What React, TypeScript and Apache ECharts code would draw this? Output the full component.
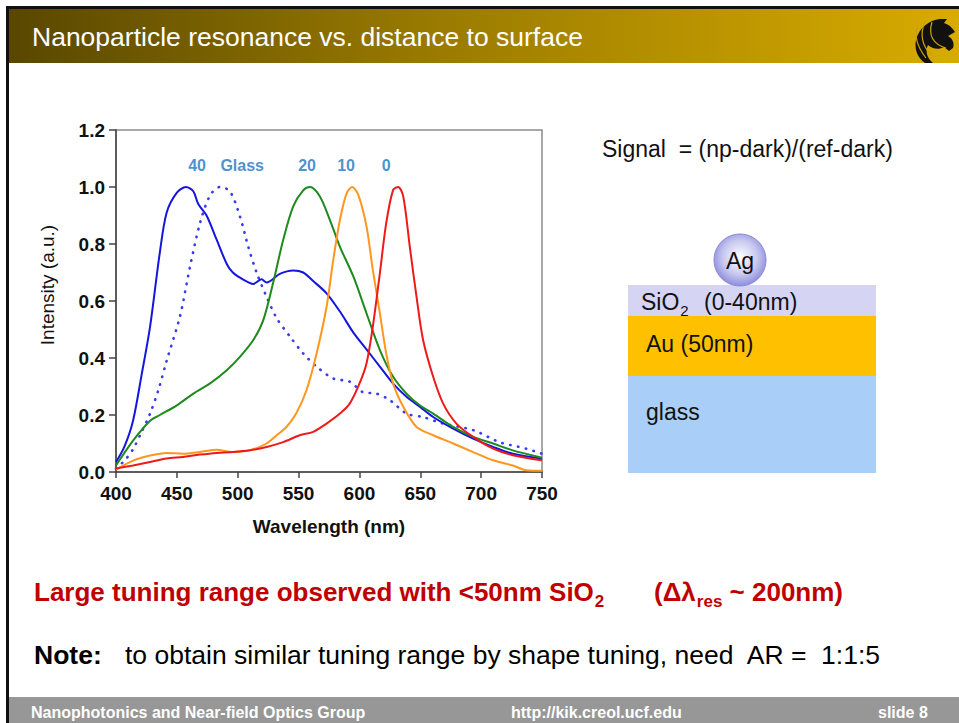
import React, { useEffect, useRef } from "react";
import * as echarts from "echarts";

const FONT = "'Liberation Sans', Arial, Helvetica, sans-serif";

// ---- data (wavelength nm, normalized intensity) ----
const spectrum40: [number, number][] = [
  [400, 0.035], [407, 0.09], [414, 0.18], [421, 0.34], [428, 0.51], [436, 0.77], [441.6, 0.91], [450, 0.98],
  [457.5, 1.0], [463.5, 0.985], [467.6, 0.94], [474.4, 0.9], [482.7, 0.815], [491, 0.73], [496, 0.7],
  [504.6, 0.675], [512.8, 0.66], [519.6, 0.676], [523.7, 0.665], [534.6, 0.695], [545.6, 0.707],
  [553.8, 0.7], [562, 0.67], [573, 0.627], [584, 0.563], [594.9, 0.49], [605.8, 0.43], [616.8, 0.37],
  [627.7, 0.31], [638.7, 0.264], [649.6, 0.229], [660.6, 0.193], [677, 0.152], [693.4, 0.117],
  [709.8, 0.088], [726, 0.064], [750, 0.047],
];
const spectrumGlass: [number, number][] = [
  [400, 0.012], [407, 0.04], [414, 0.08], [421, 0.14], [428, 0.205], [435, 0.29], [441.6, 0.39],
  [452.5, 0.545], [460.8, 0.72], [469, 0.873], [477.2, 0.97], [485.4, 1.0], [493.6, 0.985], [501.8, 0.897],
  [508.7, 0.79], [515.5, 0.7], [523.7, 0.615], [532, 0.54], [543, 0.475], [553.8, 0.416], [564.8, 0.37],
  [578.5, 0.328], [592, 0.317], [603, 0.28], [614, 0.275], [625, 0.252], [638.7, 0.205], [652, 0.193],
  [668.8, 0.17], [693.4, 0.147], [715, 0.105], [737, 0.082], [750, 0.064],
];
const spectrum20: [number, number][] = [
  [400, 0.023], [414, 0.11], [428, 0.18], [436, 0.2], [450, 0.234], [463.5, 0.275], [477, 0.31],
  [491, 0.357], [501.8, 0.404], [512.8, 0.463], [521, 0.533], [529, 0.662], [537.4, 0.815], [545.6, 0.932],
  [553.8, 0.988], [559.3, 1.0], [567.5, 0.967], [575.7, 0.885], [584, 0.79], [595, 0.686], [605.8, 0.557],
  [616.8, 0.428], [627.7, 0.334], [638.7, 0.275], [649.6, 0.234], [660.6, 0.205], [677, 0.158],
  [693.4, 0.123], [709.8, 0.1], [726, 0.076], [750, 0.05],
];
const spectrum10: [number, number][] = [
  [400, 0.008], [414, 0.04], [428, 0.058], [441.6, 0.067], [455, 0.064], [469, 0.07], [482.7, 0.078],
  [496, 0.07], [510, 0.076], [523.7, 0.1], [532, 0.129], [540, 0.158], [548, 0.205], [556.5, 0.287],
  [564.8, 0.416], [573, 0.58], [578.5, 0.744], [584, 0.885], [589.4, 0.977], [594, 1.0], [599, 0.973],
  [605.8, 0.862], [611, 0.709], [616.8, 0.557], [622, 0.416], [627.7, 0.31], [636, 0.229], [646.9, 0.158],
  [660.6, 0.129], [677, 0.1], [693.4, 0.07], [709.8, 0.041], [726, 0.023], [737, 0.006], [750, 0.004],
];
const spectrum0: [number, number][] = [
  [400, 0.012], [414, 0.023], [428, 0.035], [441.6, 0.047], [455, 0.053], [469, 0.061], [482.7, 0.067],
  [496, 0.07], [510, 0.076], [523.7, 0.088], [537.4, 0.105], [551, 0.129], [562, 0.141], [573, 0.17],
  [584, 0.205], [592, 0.24], [600, 0.31], [605.8, 0.381], [611, 0.51], [616.8, 0.698], [622, 0.873],
  [627.7, 0.99], [631.8, 1.0], [636, 0.967], [641.4, 0.79], [646.9, 0.615], [652.3, 0.463], [660.6, 0.334],
  [668.8, 0.24], [679.7, 0.17], [693.4, 0.123], [709.8, 0.082], [726, 0.059], [750, 0.041],
];
const peakLabels = ["40", "Glass", "20", "10", "0"];
const peakLabelX = [466.6, 503.7, 557, 589, 622];
const peakLabelY = 1.075;

const LOGO_D =
  "M27 1 C16 2 6 10 3 22 C1 32 5 40 12 45 L20 45 C14 40 12 33 15 27 C19 31 26 32 31 29 L36 33 L40 30 C42 25 39 20 35 18 L42 14 C39 9 35 6 31 5 L34 1 Z";
let logoRegistered = false;

function measure(text: string, font: string): number {
  const ctx = document.createElement("canvas").getContext("2d")!;
  ctx.font = font;
  return ctx.measureText(text).width;
}

function T(text: string, x: number, y: number, font: string, fill: string, align = "left", extra: any = {}) {
  return {
    type: "text",
    x,
    y,
    silent: true,
    ...extra,
    style: { text, font, fill, align, verticalAlign: "middle", textAlign: align, textVerticalAlign: "middle" },
  };
}

export default function App() {
  const ref = useRef<HTMLDivElement>(null);
  useEffect(() => {
    if (!ref.current) return;
    if (!logoRegistered) {
      echarts.graphic.registerShape("logo", echarts.graphic.extendPath(LOGO_D, {}) as any);
      logoRegistered = true;
    }
    const chart = echarts.init(ref.current, undefined, { renderer: "svg" });

    const hFont = `bold 26px ${FONT}`;
    const hSub = `bold 17px ${FONT}`;
    const red = "#C00000";
    const main = "Large tuning range observed with <50nm SiO";
    const wMain = measure(main, hFont);
    const dStart = 654;
    const wD = measure("(\u0394\u03bb", hFont);
    const wRes = measure("res", hSub);

    const dFont = `23px ${FONT}`;
    const wSiO = measure("SiO", dFont);

    const graphic: any[] = [
      // slide frame
      { type: "rect", silent: true, shape: { x: 6, y: 6, width: 953, height: 3 }, style: { fill: "#111" } },
      { type: "rect", silent: true, shape: { x: 6, y: 6, width: 3, height: 717 }, style: { fill: "#111" } },
      {
        type: "rect",
        silent: true,
        shape: { x: 9, y: 9, width: 950, height: 54 },
        style: {
          fill: new echarts.graphic.LinearGradient(0, 0, 1, 0, [
            { offset: 0, color: "#594700" },
            { offset: 0.45, color: "#9A7B00" },
            { offset: 1, color: "#D8AB00" },
          ]),
        },
      },
      T("Nanoparticle resonance vs. distance to surface", 32, 37, `26.5px ${FONT}`, "#FFFFFF"),
      { type: "logo", x: 913, y: 18, scaleX: 1, scaleY: 1, silent: true, style: { fill: "#111" } },
      {
        type: "bezierCurve", silent: true,
        shape: { x1: 918, y1: 26, x2: 926, y2: 58, cpx1: 912, cpy1: 40 },
        style: { stroke: "#C9A200", lineWidth: 1.2, fill: null },
      },
      {
        type: "bezierCurve", silent: true,
        shape: { x1: 925, y1: 22, x2: 931, y2: 55, cpx1: 917, cpy1: 40 },
        style: { stroke: "#C9A200", lineWidth: 1.2, fill: null },
      },
      {
        type: "bezierCurve", silent: true,
        shape: { x1: 932, y1: 22, x2: 946, y2: 48, cpx1: 926, cpy1: 42 },
        style: { stroke: "#C9A200", lineWidth: 1.2, fill: null },
      },
      // footer
      { type: "rect", silent: true, shape: { x: 9, y: 697, width: 950, height: 26 }, style: { fill: "#979797" } },
      T("Nanophotonics and Near-field Optics Group", 31, 712, `bold 16px ${FONT}`, "#FFFFFF"),
      T("http://kik.creol.ucf.edu", 511, 712, `bold 16px ${FONT}`, "#FFFFFF"),
      T("slide 8", 878, 712, `bold 16px ${FONT}`, "#FFFFFF"),
      // right-hand text and diagram
      T("Signal  = (np-dark)/(ref-dark)", 602, 149, dFont, "#111"),
      { type: "rect", silent: true, shape: { x: 628, y: 285, width: 248, height: 31 }, style: { fill: "#D5D5F3" } },
      { type: "rect", silent: true, shape: { x: 628, y: 316, width: 248, height: 60 }, style: { fill: "#FFC000" } },
      { type: "rect", silent: true, shape: { x: 628, y: 376, width: 248, height: 97 }, style: { fill: "#A9CEF8" } },
      {
        type: "circle",
        silent: true,
        shape: { cx: 740, cy: 260, r: 26 },
        style: {
          fill: new echarts.graphic.RadialGradient(0.5, 0.45, 0.6, [
            { offset: 0, color: "#FFFFFF" },
            { offset: 0.55, color: "#C8C8F0" },
            { offset: 1, color: "#8080D8" },
          ]),
          stroke: "#8A8AD8",
          lineWidth: 1,
        },
      },
      T("Ag", 740, 261, dFont, "#111", "center"),
      T("SiO", 641, 302, dFont, "#111"),
      T("2", 641 + wSiO + 1, 310, `15px ${FONT}`, "#111"),
      T("(0-40nm)", 704, 302, dFont, "#111"),
      T("Au (50nm)", 646, 344, dFont, "#111"),
      T("glass", 646, 412, dFont, "#111"),
      // headline
      T(main, 34, 592, hFont, red),
      T("2", 34 + wMain + 1, 601, hSub, red),
      T("(\u0394\u03bb", dStart, 592, hFont, red),
      T("res", dStart + wD + 1, 601, hSub, red),
      T(" ~ 200nm)", dStart + wD + 1 + wRes, 592, hFont, red),
      // note
      T("Note:", 34, 655, `bold 26.5px ${FONT}`, "#000"),
      T("to obtain similar tuning range by shape tuning, need  AR =  1:1:5", 125, 655, `26.5px ${FONT}`, "#000"),
      // y-axis name
      T("Intensity (a.u.)", 47, 285, `19px ${FONT}`, "#111", "center", { rotation: Math.PI / 2 }),
    ];

    const lineSeries = (name: string, data: [number, number][], color: string, dotted = false) => ({
      type: "line",
      name,
      data,
      showSymbol: false,
      smooth: 0.3,
      silent: true,
      z: 3,
      lineStyle: dotted
        ? { color, width: 2.6, type: [0.5, 7.5], cap: "round" }
        : { color, width: 2 },
    });

    chart.setOption({
      animation: false,
      backgroundColor: "#FFFFFF",
      graphic,
      grid: {
        left: 116,
        right: 417,
        top: 130,
        bottom: 251,
        show: true,
        borderColor: "#8A8A8A",
        borderWidth: 1.5,
      },
      xAxis: {
        type: "value",
        min: 400,
        max: 750,
        interval: 50,
        name: "Wavelength (nm)",
        nameLocation: "middle",
        nameGap: 45,
        nameTextStyle: { fontFamily: FONT, fontWeight: "bold", fontSize: 19, color: "#111" },
        axisLine: { lineStyle: { color: "#444", width: 1.5 } },
        axisTick: { show: true, length: 6, lineStyle: { color: "#444", width: 1.5 } },
        axisLabel: { fontFamily: FONT, fontWeight: "bold", fontSize: 19, color: "#111", margin: 12 },
        splitLine: { show: false },
      },
      yAxis: {
        type: "value",
        min: 0,
        max: 1.2,
        interval: 0.2,
        axisLine: { show: true, lineStyle: { color: "#444", width: 1.5 } },
        axisTick: { show: true, length: 7, lineStyle: { color: "#444", width: 1.5 } },
        axisLabel: {
          fontFamily: FONT,
          fontWeight: "bold",
          fontSize: 19,
          color: "#111",
          margin: 11,
          formatter: (v: number) => v.toFixed(1),
        },
        splitLine: { show: false },
      },
      series: [
        lineSeries("Glass", spectrumGlass, "#3B3BEE", true),
        lineSeries("40", spectrum40, "#1515E0"),
        lineSeries("20", spectrum20, "#1E8A1E"),
        lineSeries("10", spectrum10, "#FF961E"),
        lineSeries("0", spectrum0, "#EE1A1A"),
        {
          type: "scatter",
          silent: true,
          symbolSize: 0,
          z: 4,
          data: peakLabels.map((n, i) => ({ name: n, value: [peakLabelX[i], peakLabelY] })),
          label: {
            show: true,
            position: "inside",
            formatter: "{b}",
            fontFamily: FONT,
            fontWeight: "bold",
            fontSize: 16,
            color: "#1B74C4",
          },
        },
      ],
    });
    return () => chart.dispose();
  }, []);
  return <div ref={ref} style={{ position: "absolute", left: 0, top: 0, width: 959, height: 723 }} />;
}
